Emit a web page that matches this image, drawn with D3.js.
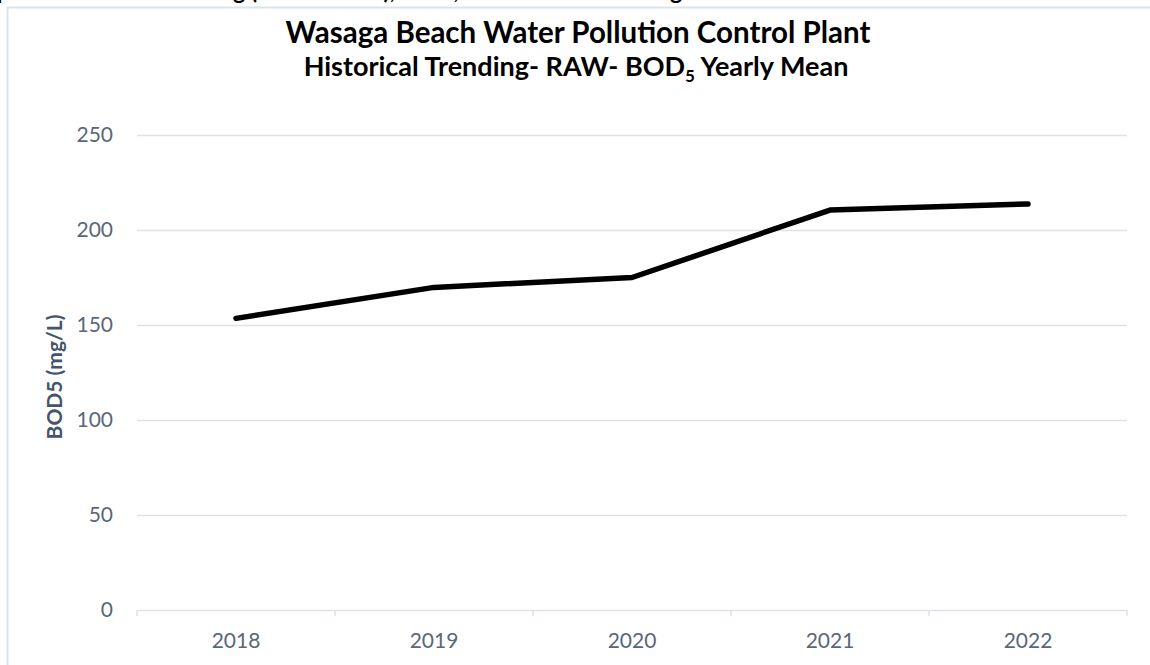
<!DOCTYPE html>
<html>
<head>
<meta charset="utf-8">
<script src="https://cdn.jsdelivr.net/npm/d3@7"></script>
<style>
  html, body { margin: 0; padding: 0; background: #fff; }
  svg { display: block; }
</style>
</head>
<body>
<svg id="chart" width="1150" height="665"></svg>
<script>
const categories = ["2018", "2019", "2020", "2021", "2022"];
const bodValues = [153.5, 169.8, 175.0, 210.5, 213.7];
const yTicks = [0, 50, 100, 150, 200, 250];
const titleText = "Wasaga Beach Water Pollution Control Plant";
const subtitleParts = ["Historical Trending- RAW- BOD", "5", " Yearly Mean"];
const yAxisLabel = "BOD5 (mg/L)";
const pageHeading = "Graph 3: Historical Trending (2018 - 2022), RAW, BOD5 Annual Average";

const svg = d3.select("#chart");
const font = "Lato, 'Open Sans', sans-serif";
const tickColor = "#5a6779";
const gridColor = "#dde2ea";

// cut-off page heading at the very top
svg.append("text")
  .attr("x", -40).attr("y", -1)
  .attr("font-family", font).attr("font-weight", 700).attr("font-size", 23)
  .attr("fill", "#000")
  .text(pageHeading);

// chart box border
svg.append("rect")
  .attr("x", 7.5).attr("y", 7.5).attr("width", 1160).attr("height", 680)
  .attr("fill", "#fff").attr("stroke", "#dde3ec").attr("stroke-width", 2);

const margin = { left: 137, right: 1127, top: 135, bottom: 610 };

const x = d3.scaleBand().domain(categories).range([margin.left, margin.right]).padding(0);
const y = d3.scaleLinear().domain([0, 250]).range([margin.bottom, margin.top]);

// gridlines
const grid = svg.append("g")
  .attr("transform", `translate(${margin.left},0)`)
  .call(d3.axisLeft(y).tickValues(yTicks.filter(d => d > 0)).tickSize(-(margin.right - margin.left)).tickFormat(""));
grid.select(".domain").remove();
grid.selectAll("line").attr("stroke", gridColor).attr("stroke-width", 1.5);

// y tick labels
const yAx = svg.append("g")
  .attr("transform", `translate(${margin.left},0)`)
  .call(d3.axisLeft(y).tickValues(yTicks).tickSize(0).tickPadding(24));
yAx.select(".domain").remove();
yAx.selectAll("text")
  .attr("font-family", font).attr("font-size", 21).attr("fill", tickColor);

// x axis
const xAx = svg.append("g")
  .attr("transform", `translate(0,${margin.bottom})`)
  .call(d3.axisBottom(x).tickSize(0).tickPadding(23));
xAx.select(".domain").attr("stroke", gridColor).attr("stroke-width", 1.5);
xAx.selectAll("text")
  .attr("font-family", font).attr("font-size", 21).attr("fill", tickColor);

// x boundary tick marks
const bounds = categories.map(c => x(c)).concat([x(categories[categories.length - 1]) + x.bandwidth()]);
svg.append("g").selectAll("line").data(bounds).join("line")
  .attr("x1", d => d).attr("x2", d => d)
  .attr("y1", margin.bottom).attr("y2", margin.bottom + 6)
  .attr("stroke", gridColor).attr("stroke-width", 1.5);

// line
const line = d3.line()
  .x((d, i) => x(categories[i]) + x.bandwidth() / 2)
  .y(d => y(d));
svg.append("path")
  .datum(bodValues)
  .attr("d", line)
  .attr("fill", "none")
  .attr("stroke", "#000")
  .attr("stroke-width", 5.5)
  .attr("stroke-linecap", "round")
  .attr("stroke-linejoin", "round");

// titles
svg.append("text")
  .attr("x", 578).attr("y", 43)
  .attr("text-anchor", "middle")
  .attr("font-family", font).attr("font-weight", 700).attr("font-size", 29.5)
  .attr("fill", "#000")
  .text(titleText);

const sub = svg.append("text")
  .attr("x", 576).attr("y", 76)
  .attr("text-anchor", "middle")
  .attr("font-family", font).attr("font-weight", 700).attr("font-size", 27)
  .attr("fill", "#000");
sub.append("tspan").text(subtitleParts[0]);
sub.append("tspan").attr("font-size", 17).attr("dy", 6).text(subtitleParts[1]);
sub.append("tspan").attr("dy", -6).text(subtitleParts[2]);

// y axis label
svg.append("text")
  .attr("transform", `translate(62,377) rotate(-90)`)
  .attr("text-anchor", "middle")
  .attr("font-family", font).attr("font-weight", 700).attr("font-size", 21)
  .attr("fill", "#44546a")
  .text(yAxisLabel);
</script>
</body>
</html>
